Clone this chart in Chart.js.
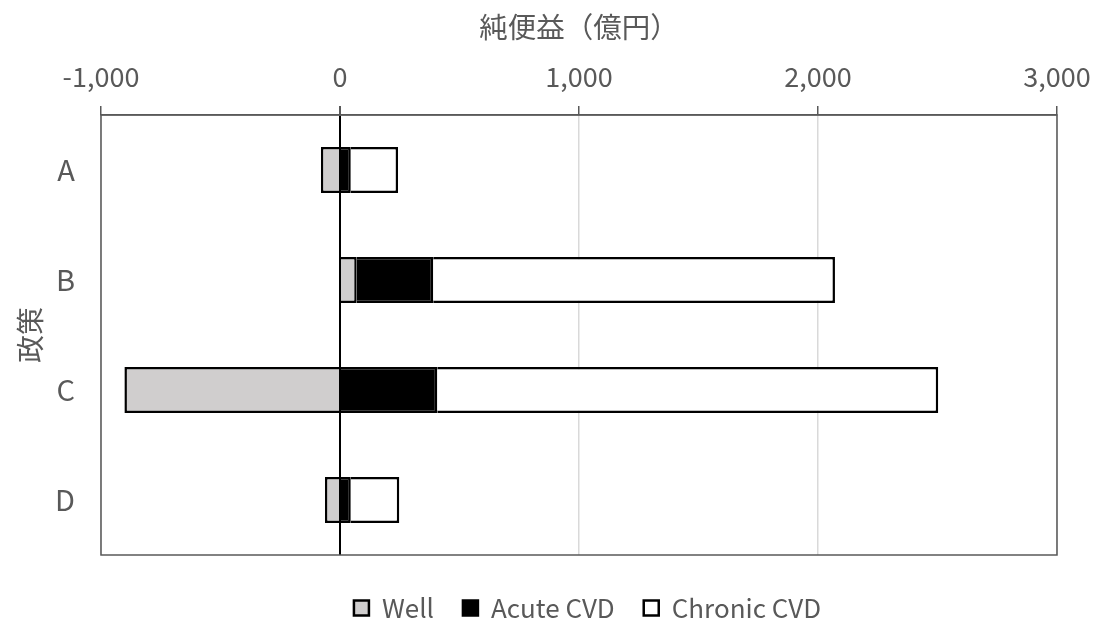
<!DOCTYPE html>
<html>
<head>
<meta charset="utf-8">
<script src="https://cdn.jsdelivr.net/npm/chart.js@4"></script>
<style>
html,body{margin:0;padding:0;background:#fff;}
#wrap{width:1097px;height:624px;}
</style>
</head>
<body>
<div id="wrap"><canvas id="c" width="1097" height="624"></canvas></div>
<script>
const categories = ['A', 'B', 'C', 'D'];
const wellValues = [-80, 70, -902, -63];
const acuteValues = [45, 320, 407, 45];
const chronicValues = [198, 1681, 2096, 203];
const seriesNames = ['Well', 'Acute CVD', 'Chronic CVD'];
const xTitle = '純便益（億円）';
const yTitle = '政策';

const FONT = "'Noto Sans CJK JP', 'Noto Sans', sans-serif";
const TXT = '#595959';

const boxPlugin = {
  id: 'plotBox',
  afterLayout(chart) {
    if (chart.legend) { chart.legend.left += 59; chart.legend.right += 59; }
  },
  beforeDatasetsDraw(chart) {
    const {ctx, chartArea: a} = chart;
    ctx.save();
    ctx.strokeStyle = '#595959';
    ctx.lineWidth = 1.5;
    ctx.strokeRect(a.left, a.top, a.right - a.left, a.bottom - a.top);
    ctx.restore();
  }
};

new Chart(document.getElementById('c'), {
  type: 'bar',
  data: {
    labels: categories,
    datasets: [
      {label: seriesNames[0], data: wellValues, backgroundColor: '#d0cece', borderColor: '#000', borderWidth: 2.5},
      {label: seriesNames[1], data: acuteValues, backgroundColor: '#000000', borderColor: '#000', borderWidth: 2.5},
      {label: seriesNames[2], data: chronicValues, backgroundColor: '#ffffff', borderColor: '#000', borderWidth: 2.5}
    ]
  },
  options: {
    indexAxis: 'y',
    responsive: false,
    animation: false,
    layout: {padding: {left: 0, right: 40, top: 0, bottom: -7}},
    datasets: {bar: {barPercentage: 0.42, categoryPercentage: 1}},
    scales: {
      x: {
        position: 'top',
        stacked: true,
        min: -1000, max: 3000,
        afterFit(s) { s.height = 115; s.paddingLeft = 0; s.paddingRight = 0; },
        ticks: {
          stepSize: 1000,
          color: TXT,
          padding: 13,
          font: {family: FONT, size: 27},
          callback: (v) => Number(v).toLocaleString('en-US')
        },
        grid: {
          drawTicks: true,
          tickLength: 9,
          tickColor: '#595959',
          color: (c) => c.tick && c.tick.value === 0 ? '#000000' : '#d9d9d9',
          lineWidth: (c) => c.tick && c.tick.value === 0 ? 2 : 1.5
        },
        border: {display: true, color: '#595959', width: 1.5},
        title: {
          display: true, text: xTitle, color: TXT,
          font: {family: FONT, size: 28.5},
          padding: {top: 10.5, bottom: 0}
        }
      },
      xGap: {
        position: 'bottom',
        axis: 'x',
        display: true,
        afterFit(s) { s.height = 11; s.paddingLeft = 0; s.paddingRight = 0; },
        grid: {display: false, drawTicks: false},
        border: {display: false},
        ticks: {display: false}
      },
      y: {
        stacked: true,
        afterFit(s) { s.width = 101; },
        ticks: {color: TXT, padding: 26, font: {family: FONT, size: 29}},
        grid: {display: false, drawTicks: false},
        border: {display: false},
        title: {
          display: true, text: yTitle, color: TXT,
          font: {family: FONT, size: 28},
          padding: {top: 14, bottom: 0}
        }
      }
    },
    plugins: {
      legend: {
        position: 'bottom',
        labels: {
          boxWidth: 15, boxHeight: 15, padding: 29,
          color: TXT,
          font: {family: FONT, size: 26}
        }
      },
      tooltip: {enabled: false}
    }
  },
  plugins: [boxPlugin]
});
</script>
</body>
</html>
